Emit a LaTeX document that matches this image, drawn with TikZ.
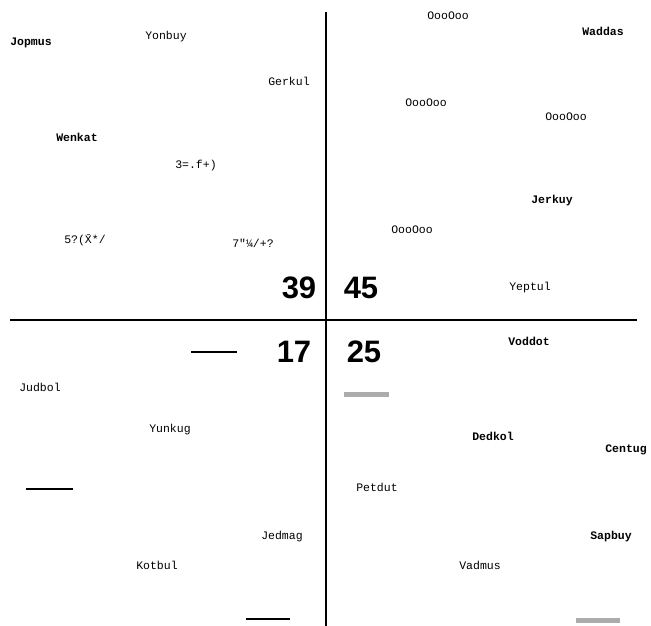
\documentclass[tikz,border=0pt]{standalone}
\usepackage{fontspec}
\setmainfont{Liberation Serif}
\newfontfamily\monof{Liberation Mono}
\newfontfamily\numf{Liberation Sans}
\begin{document}
\begin{tikzpicture}[x=1pt,y=-1pt,
  lab/.style={font=\monof\fontsize{11.5}{13}\selectfont, inner sep=0pt},
  blab/.style={font=\monof\bfseries\fontsize{11.5}{13}\selectfont, inner sep=0pt},
  num/.style={font=\numf\bfseries\fontsize{31}{33}\selectfont, inner sep=0pt},
  axis/.style={line width=1.8pt},
  dashline/.style={line width=1.3pt},
  shade/.style={fill=gray!65, draw=none}]
\useasboundingbox (0,0) rectangle (651,626);
% axes
\coordinate (vt) at (326,12);
\coordinate (vb) at (326,626);
\coordinate (hl) at (10,320);
\coordinate (hr) at (637,320);
\draw[axis] (vt) -- (vb);
\draw[axis] (hl) -- (hr);
% quadrant numbers
\node[num] (n39) at (299,288) {39};
\node[num] (n45) at (361,288) {45};
\node[num] (n17) at (294,352) {17};
\node[num] (n25) at (364,352) {25};
% top-left
\node[blab] (jopmus) at (31,43) {Jopmus};
\node[lab] (yonbuy) at (166,37) {Yonbuy};
\node[lab] (gerkul) at (289,81) {Gerkul};
\node[blab] (wenkat) at (77,137) {Wenkat};
\node[lab] (s1) at (196,166) {3=.f+)};
\node[lab] (s2) at (85,240) {5?(\=X*/};
\node[lab] (s3) at (253,243) {7"\textonequarter/+?};
% top-right
\node[lab] (o1) at (448,16) {OooOoo};
\node[blab] (waddas) at (603,31) {Waddas};
\node[lab] (o2) at (426,103) {OooOoo};
\node[lab] (o3) at (566,117) {OooOoo};
\node[blab] (jerkuy) at (552,201) {Jerkuy};
\node[lab] (o4) at (412,230) {OooOoo};
\node[lab] (yeptul) at (530,288) {Yeptul};
% bottom-left
\coordinate (d1a) at (191,352); \coordinate (d1b) at (237,352);
\draw[dashline] (d1a) -- (d1b);
\node[lab] (judbol) at (40,387) {Judbol};
\node[lab] (yunkug) at (170,430) {Yunkug};
\coordinate (d2a) at (26,489); \coordinate (d2b) at (73,489);
\draw[dashline] (d2a) -- (d2b);
\node[lab] (jedmag) at (282,537) {Jedmag};
\node[lab] (kotbul) at (157,565) {Kotbul};
\coordinate (d3a) at (246,619); \coordinate (d3b) at (290,619);
\draw[dashline] (d3a) -- (d3b);
% bottom-right
\node[blab] (voddot) at (529,341) {Voddot};
\fill[shade] (344,392) rectangle (389,397);
\node[blab] (dedkol) at (493,436) {Dedkol};
\node[blab] (centug) at (626,450) {Centug};
\node[lab] (petdut) at (377,487) {Petdut};
\node[blab] (sapbuy) at (611,537) {Sapbuy};
\node[lab] (vadmus) at (480,565) {Vadmus};
\fill[shade] (576,618) rectangle (620,623);
\end{tikzpicture}
\end{document}
